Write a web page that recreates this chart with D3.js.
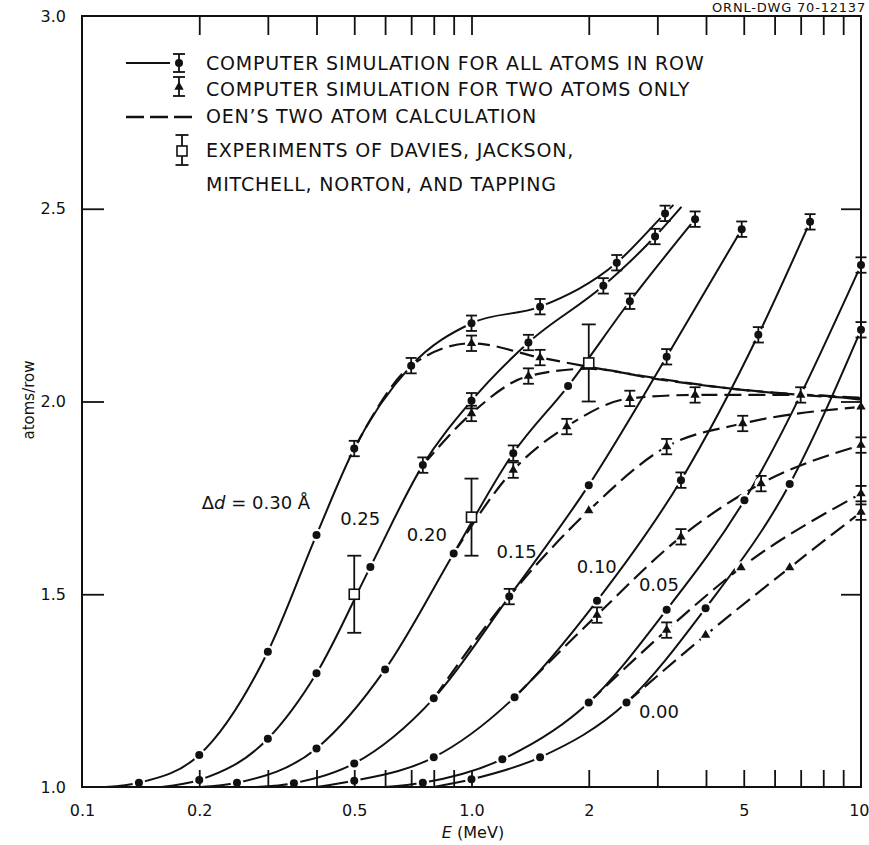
<!DOCTYPE html>
<html>
<head>
<meta charset="utf-8">
<title>atoms/row vs E</title>
<script src="https://cdn.jsdelivr.net/npm/d3@7"></script>
<style>
body { margin: 0; background: #fff; }
svg text { font-family: "DejaVu Sans", sans-serif; fill: #111; }
</style>
</head>
<body>
<div id="chart"></div>
<script>
// one solid curve (all atoms) and one dashed curve (two atoms) per delta d
var deltaD = ["0.30", "0.25", "0.20", "0.15", "0.10", "0.05", "0.00"];

// [E (MeV), atoms/row, mark]   mark: 0 = none, 1 = point, 2 = point with error bar
var allAtoms030 = [[0.115, 1.0, 0], [0.14, 1.011, 1], [0.2, 1.083, 1], [0.3, 1.351, 1], [0.4, 1.654, 1], [0.5, 1.878, 2], [0.7, 2.093, 2], [1.0, 2.203, 2], [1.5, 2.246, 2], [2.36, 2.36, 2], [3.14, 2.488, 2], [3.3, 2.51, 0]];
var allAtoms025 = [[0.16, 1.0, 0], [0.2, 1.018, 1], [0.3, 1.125, 1], [0.4, 1.295, 1], [0.55, 1.571, 1], [0.75, 1.835, 2], [1.0, 2.002, 2], [1.4, 2.153, 2], [2.18, 2.30, 2], [2.96, 2.428, 2], [3.46, 2.505, 0]];
var allAtoms020 = [[0.2, 1.0, 0], [0.25, 1.011, 1], [0.4, 1.10, 1], [0.6, 1.305, 1], [0.9, 1.606, 1], [1.28, 1.866, 2], [1.77, 2.04, 1], [2.55, 2.26, 2], [3.75, 2.473, 2]];
var allAtoms015 = [[0.28, 1.0, 0], [0.35, 1.01, 1], [0.5, 1.061, 1], [0.8, 1.23, 1], [1.25, 1.494, 2], [2.0, 1.783, 1], [3.17, 2.116, 2], [4.94, 2.447, 2]];
var allAtoms010 = [[0.4, 1.0, 0], [0.5, 1.016, 1], [0.8, 1.077, 1], [1.29, 1.233, 1], [2.1, 1.483, 1], [3.45, 1.796, 2], [5.45, 2.173, 2], [7.4, 2.466, 2]];
var allAtoms005 = [[0.6, 1.0, 0], [0.75, 1.011, 1], [1.2, 1.072, 1], [2.0, 1.219, 1], [3.17, 1.46, 1], [5.02, 1.744, 1], [10, 2.354, 2]];
var allAtoms000 = [[0.8, 1.0, 0], [1.0, 1.02, 1], [1.5, 1.077, 1], [2.5, 1.219, 1], [3.99, 1.464, 1], [6.56, 1.786, 1], [10, 2.186, 2]];

// computer simulation for two atoms only / Oen's calculation (dashed)
var twoAtoms030 = [[0.5, 1.878, 0], [0.7, 2.093, 0], [1.0, 2.151, 2], [1.5, 2.114, 2], [2.0, 2.09, 0], [3.0, 2.06, 0], [4.5, 2.035, 0], [7.0, 2.017, 0], [10, 2.008, 0]];
var twoAtoms025 = [[0.75, 1.835, 0], [1.0, 1.969, 2], [1.4, 2.066, 2], [2.0, 2.085, 0], [3.0, 2.058, 0], [5.0, 2.03, 0], [10, 2.01, 0]];
var twoAtoms020 = [[0.9, 1.606, 0], [1.28, 1.822, 2], [1.756, 1.935, 2], [2.55, 2.008, 2], [3.75, 2.017, 2], [7.0, 2.017, 2], [10, 2.005, 0]];
var twoAtoms015 = [[0.8, 1.23, 0], [1.25, 1.494, 0], [2.0, 1.717, 1], [3.17, 1.883, 2], [4.97, 1.943, 2], [10, 1.986, 1]];
var twoAtoms010 = [[1.29, 1.233, 0], [2.1, 1.446, 2], [3.45, 1.649, 2], [5.54, 1.787, 2], [10, 1.887, 2]];
var twoAtoms005 = [[2.0, 1.219, 0], [3.17, 1.407, 2], [4.92, 1.569, 1], [10, 1.761, 2]];
var twoAtoms000 = [[2.5, 1.219, 0], [3.99, 1.394, 1], [6.56, 1.569, 1], [10, 1.713, 2]];

// experiments of Davies et al.
var expE = [0.5, 1.0, 2.0];
var expV = [1.5, 1.7, 2.1];
var expErr = [0.1, 0.1, 0.1];
var simErr = 0.02;

// where the delta d labels sit, [E, atoms/row] of the text start
var labelAt = [[0.203, 1.721], [0.46, 1.68], [0.682, 1.638], [1.16, 1.594], [1.863, 1.555], [2.69, 1.508], [2.69, 1.18]];

var xTickValues = [0.1, 0.2, 0.5, 1.0, 2, 5, 10];
var xTickLabels = ["0.1", "0.2", "0.5", "1.0", "2", "5", "10"];
var yTickValues = [1.0, 1.5, 2.0, 2.5, 3.0];
var yTickLabels = ["1.0", "1.5", "2.0", "2.5", "3.0"];

var legendLabels = [
    "COMPUTER SIMULATION FOR ALL ATOMS IN ROW",
    "COMPUTER SIMULATION FOR TWO ATOMS ONLY",
    "OEN\u2019S TWO ATOM CALCULATION",
    "EXPERIMENTS OF DAVIES, JACKSON,",
    "MITCHELL, NORTON, AND TAPPING"
];

var w = 869;
var h = 845;
var ink = "#111";

var svg = d3.select("#chart")
    .append("svg")
    .attr("width", w)
    .attr("height", h);

var x = d3.scaleLog().domain([0.1, 10]).range([82, 861]);
var y = d3.scaleLinear().domain([1, 3]).range([787, 16]);

var line = d3.line()
    .x(function(d) { return x(d[0]); })
    .y(function(d) { return y(d[1]); })
    .curve(d3.curveMonotoneX);

var solidCurves = [allAtoms030, allAtoms025, allAtoms020, allAtoms015, allAtoms010, allAtoms005, allAtoms000];
var dashedCurves = [twoAtoms030, twoAtoms025, twoAtoms020, twoAtoms015, twoAtoms010, twoAtoms005, twoAtoms000];

svg.selectAll("path.solid")
    .data(solidCurves)
    .enter()
    .append("path")
    .attr("class", "solid")
    .attr("d", line)
    .attr("fill", "none")
    .attr("stroke", ink)
    .attr("stroke-width", 2);

svg.selectAll("path.dashed")
    .data(dashedCurves)
    .enter()
    .append("path")
    .attr("class", "dashed")
    .attr("d", line)
    .attr("fill", "none")
    .attr("stroke", ink)
    .attr("stroke-width", 2.2)
    .attr("stroke-dasharray", "17,7");

// collect the marked points
var points = [];
solidCurves.forEach(function(c) {
    c.forEach(function(d) { if (d[2]) points.push({ E: d[0], v: d[1], bar: d[2] == 2, shape: "dot" }); });
});
dashedCurves.forEach(function(c) {
    c.forEach(function(d) { if (d[2]) points.push({ E: d[0], v: d[1], bar: d[2] == 2, shape: "tri" }); });
});
var expPoints = expE.map(function(e, i) { return { E: e, v: expV[i], err: expErr[i] }; });

// white halo so the curves break around the markers
svg.selectAll("circle.halo")
    .data(points)
    .enter()
    .append("circle")
    .attr("cx", function(d) { return x(d.E); })
    .attr("cy", function(d) { return y(d.v); })
    .attr("r", 6.5)
    .attr("fill", "#fff");

// frame and ticks
var minorTicks = [];
[0.1, 1].forEach(function(dec) {
    for (var k = 2; k <= 9; k++) minorTicks.push(k * dec);
});
minorTicks.push(1);

function styleAxis(g) {
    g.select(".domain").remove();
    g.selectAll("line").attr("stroke", ink).attr("stroke-width", 1.8);
    g.selectAll("text").attr("font-family", "DejaVu Sans").attr("font-size", 16).attr("fill", ink);
}

svg.append("g").attr("transform", "translate(0,787)")
    .call(d3.axisBottom(x).tickValues(minorTicks).tickSize(-17).tickFormat(""))
    .call(styleAxis);
svg.append("g").attr("transform", "translate(0,787)")
    .call(d3.axisBottom(x).tickValues(xTickValues).tickSize(0).tickPadding(18)
        .tickFormat(function(d, i) { return xTickLabels[i]; }))
    .call(styleAxis)
    .selectAll("text")
    .filter(function(d) { return d == 10; })
    .attr("text-anchor", "end")
    .attr("dx", 8);
svg.append("g").attr("transform", "translate(0,16)")
    .call(d3.axisTop(x).tickValues(minorTicks).tickSize(-19).tickFormat(""))
    .call(styleAxis);
svg.append("g").attr("transform", "translate(82,0)")
    .call(d3.axisLeft(y).tickValues([1.5, 2.0, 2.5]).tickSize(-22).tickFormat(""))
    .call(styleAxis);
svg.append("g").attr("transform", "translate(82,0)")
    .call(d3.axisLeft(y).tickValues(yTickValues).tickSize(0).tickPadding(16)
        .tickFormat(function(d, i) { return yTickLabels[i]; }))
    .call(styleAxis);
svg.append("g").attr("transform", "translate(861,0)")
    .call(d3.axisRight(y).tickValues([1.5, 2.0, 2.5]).tickSize(-20).tickFormat(""))
    .call(styleAxis);

svg.append("rect")
    .attr("x", x(0.1))
    .attr("y", y(3))
    .attr("width", x(10) - x(0.1))
    .attr("height", y(1) - y(3))
    .attr("fill", "none")
    .attr("stroke", ink)
    .attr("stroke-width", 2);

// error bars
function errBar(sel, cx, lo, hi, cap) {
    sel.append("line").attr("x1", cx).attr("x2", cx).attr("y1", lo).attr("y2", hi);
    sel.append("line").attr("x1", cx - cap / 2).attr("x2", cx + cap / 2).attr("y1", lo).attr("y2", lo);
    sel.append("line").attr("x1", cx - cap / 2).attr("x2", cx + cap / 2).attr("y1", hi).attr("y2", hi);
}

var bars = svg.append("g").attr("stroke", ink).attr("stroke-width", 1.8);
points.filter(function(d) { return d.bar; }).forEach(function(d) {
    errBar(bars, x(d.E), y(d.v - simErr), y(d.v + simErr), 11);
});
expPoints.forEach(function(d) {
    errBar(bars, x(d.E), y(d.v - d.err), y(d.v + d.err), 14);
});

// markers
var tri = d3.symbol().type(d3.symbolTriangle).size(38);

svg.selectAll("circle.dot")
    .data(points.filter(function(d) { return d.shape == "dot"; }))
    .enter()
    .append("circle")
    .attr("class", "dot")
    .attr("cx", function(d) { return x(d.E); })
    .attr("cy", function(d) { return y(d.v); })
    .attr("r", 4)
    .attr("fill", ink);

svg.selectAll("path.tri")
    .data(points.filter(function(d) { return d.shape == "tri"; }))
    .enter()
    .append("path")
    .attr("class", "tri")
    .attr("d", tri)
    .attr("transform", function(d) { return "translate(" + x(d.E) + "," + y(d.v) + ")"; })
    .attr("fill", ink);

svg.selectAll("rect.exp")
    .data(expPoints)
    .enter()
    .append("rect")
    .attr("class", "exp")
    .attr("x", function(d) { return x(d.E) - 5; })
    .attr("y", function(d) { return y(d.v) - 5; })
    .attr("width", 10)
    .attr("height", 10)
    .attr("fill", "#fff")
    .attr("stroke", ink)
    .attr("stroke-width", 1.6);

// delta d labels
svg.selectAll("text.dd")
    .data(deltaD)
    .enter()
    .append("text")
    .attr("class", "dd")
    .attr("x", function(d, i) { return x(labelAt[i][0]); })
    .attr("y", function(d, i) { return y(labelAt[i][1]); })
    .attr("font-size", 18)
    .each(function(d, i) {
        var t = d3.select(this);
        if (i == 0) {
            t.append("tspan").text("\u0394");
            t.append("tspan").attr("font-style", "italic").text("d");
            t.append("tspan").text(" = " + d + " \u00C5");
        } else {
            t.text(d);
        }
    });

// legend
var lg = svg.append("g");
var rows = [70, 96, 123, 157, 191];
lg.selectAll("text")
    .data(legendLabels)
    .enter()
    .append("text")
    .attr("x", 206)
    .attr("y", function(d, i) { return rows[i]; })
    .attr("font-size", 19)
    .attr("letter-spacing", 0.8)
    .text(function(d) { return d; });

var lb = lg.append("g").attr("stroke", ink).attr("stroke-width", 1.8);
lb.append("line").attr("x1", 126).attr("x2", 170).attr("y1", 63).attr("y2", 63).attr("stroke-width", 2);
errBar(lb, 179, 54, 72, 12);
errBar(lb, 179, 77, 96, 12);
lb.append("line").attr("x1", 126).attr("x2", 193).attr("y1", 117).attr("y2", 117)
    .attr("stroke-width", 2.4).attr("stroke-dasharray", "18,6");
errBar(lb, 182, 135, 165, 13);
lg.append("circle").attr("cx", 179).attr("cy", 63).attr("r", 4).attr("fill", ink);
lg.append("path").attr("d", tri).attr("transform", "translate(179,87)").attr("fill", ink);
lg.append("rect").attr("x", 177).attr("y", 146).attr("width", 10).attr("height", 10)
    .attr("fill", "#fff").attr("stroke", ink).attr("stroke-width", 1.6);

// axis titles
var xt = svg.append("text")
    .attr("x", 473)
    .attr("y", 838)
    .attr("text-anchor", "middle")
    .attr("font-size", 16);
xt.append("tspan").attr("font-style", "italic").text("E");
xt.append("tspan").text(" (MeV)");

svg.append("text")
    .attr("transform", "translate(34,400) rotate(-90)")
    .attr("text-anchor", "middle")
    .attr("font-size", 15)
    .text("atoms/row");

// drawing number at the top right
svg.append("text")
    .attr("x", 866)
    .attr("y", 12)
    .attr("text-anchor", "end")
    .attr("font-size", 13)
    .attr("letter-spacing", 0.8)
    .text("ORNL-DWG 70-12137");
</script>
</body>
</html>
